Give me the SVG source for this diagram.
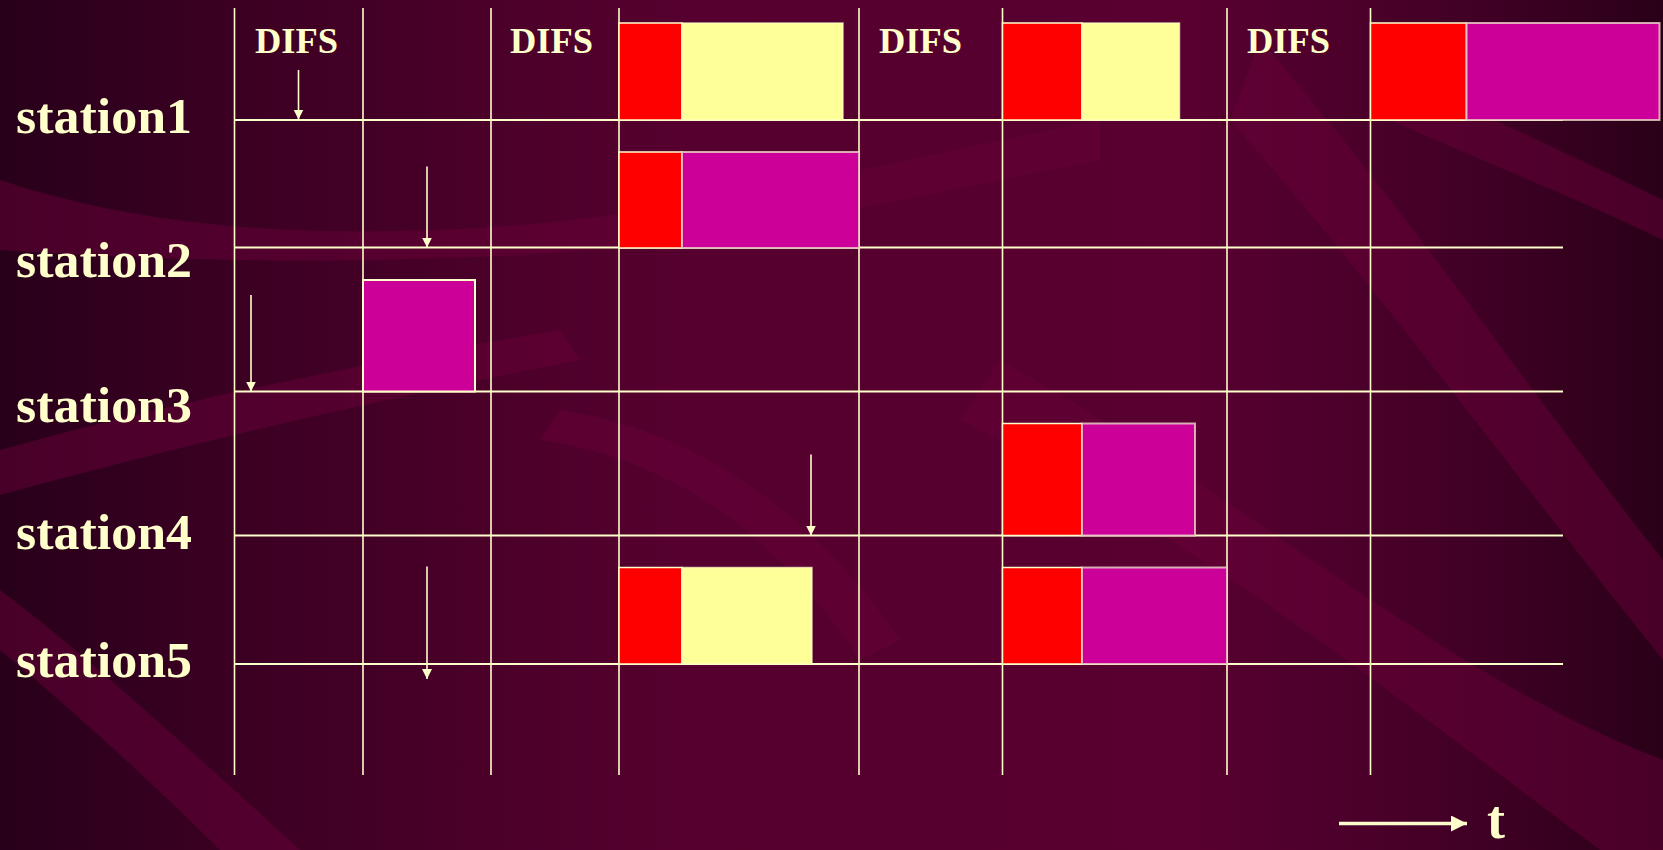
<svg xmlns="http://www.w3.org/2000/svg" width="1663" height="850" viewBox="0 0 1663 850">
  <defs>
    <linearGradient id="bg" x1="0" y1="0" x2="1" y2="0">
      <stop offset="0" stop-color="#28001a"/>
      <stop offset="0.13" stop-color="#3a0022"/>
      <stop offset="0.4" stop-color="#55002e"/>
      <stop offset="0.72" stop-color="#580030"/>
      <stop offset="0.88" stop-color="#420026"/>
      <stop offset="1" stop-color="#2a0018"/>
    </linearGradient>
    <marker id="ah" markerUnits="userSpaceOnUse" markerWidth="10" markerHeight="11" refX="10" refY="5" orient="auto">
      <path d="M0,0 L10,5 L0,10 Z" fill="#FFFFCC"/>
    </marker>
    <marker id="ahBig" markerUnits="userSpaceOnUse" markerWidth="16" markerHeight="17" refX="16" refY="8" orient="auto">
      <path d="M0,0 L16,8 L0,16 Z" fill="#FFFFCC"/>
    </marker>
    <style>
      .grid { stroke: #FFFFCC; stroke-width: 2; fill: none; }
      .vgrid { stroke: #FFFFCC; stroke-width: 1.6; fill: none; }
      .red { fill: #FF0000; stroke: #FFFFCC; stroke-width: 1.5; }
      .yel { fill: #FFFF99; stroke: #FFFFCC; stroke-width: 1.5; stroke-opacity: 0.7; }
      .mag { fill: #CC0099; stroke: #EED8C8; stroke-width: 2; stroke-opacity: 0.8; }
      .arr { stroke: #FFFFCC; stroke-width: 1.6; fill: none; marker-end: url(#ah); }
      .lbl { font-family: "Liberation Serif", "Times New Roman", serif; font-weight: bold; fill: #FFFFCC; }
      .st { font-size: 51px; }
      .difs { font-size: 36px; }
      .swoosh { fill: #680038; opacity: 0.5; }
    </style>
  </defs>

  <g id="background">
    <rect x="0" y="0" width="1663" height="850" fill="url(#bg)"/>
    <path class="swoosh" d="M0,180 C150,230 320,240 520,225 C700,210 900,160 1100,120 L1100,160 C900,200 700,245 520,255 C320,265 150,260 0,250 Z"/>
    <path class="swoosh" d="M0,450 C180,400 380,360 560,330 L580,360 C400,395 200,440 0,495 Z"/>
    <path class="swoosh" d="M0,590 C80,650 180,740 300,850 L220,850 C140,770 60,700 0,650 Z"/>
    <path class="swoosh" d="M560,410 C700,430 820,520 900,640 L860,660 C780,540 680,460 540,440 Z"/>
    <path class="swoosh" d="M1260,40 C1400,200 1520,380 1663,560 L1663,660 C1510,470 1380,290 1230,120 Z"/>
    <path class="swoosh" d="M1000,360 C1250,500 1450,680 1663,760 L1663,850 L1600,850 C1400,700 1200,540 960,420 Z"/>
    <path class="swoosh" d="M1400,80 C1500,120 1600,170 1663,200 L1663,240 C1580,200 1480,160 1390,120 Z"/>
  </g>

  <g id="grid">
    <line class="vgrid" x1="234.5" y1="8" x2="234.5" y2="775"/>
    <line class="vgrid" x1="363" y1="8" x2="363" y2="775"/>
    <line class="vgrid" x1="491" y1="8" x2="491" y2="775"/>
    <line class="vgrid" x1="619" y1="8" x2="619" y2="775"/>
    <line class="vgrid" x1="859" y1="8" x2="859" y2="775"/>
    <line class="vgrid" x1="1002.5" y1="8" x2="1002.5" y2="775"/>
    <line class="vgrid" x1="1227" y1="8" x2="1227" y2="775"/>
    <line class="vgrid" x1="1370.5" y1="8" x2="1370.5" y2="775"/>
    <line class="grid" x1="234.5" y1="120" x2="1563" y2="120"/>
    <line class="grid" x1="234.5" y1="247.5" x2="1563" y2="247.5"/>
    <line class="grid" x1="234.5" y1="391.5" x2="1563" y2="391.5"/>
    <line class="grid" x1="234.5" y1="535.5" x2="1563" y2="535.5"/>
    <line class="grid" x1="234.5" y1="664" x2="1563" y2="664"/>
  </g>

  <g id="station1">
    <text class="lbl st" x="16" y="133" textLength="176" lengthAdjust="spacingAndGlyphs">station1</text>
    <rect class="red" x="619" y="23" width="63" height="97"/>
    <rect class="yel" x="682" y="23" width="161" height="97"/>
    <rect class="red" x="1002.5" y="23" width="79.5" height="97"/>
    <rect class="yel" x="1082" y="23" width="97.5" height="97"/>
    <rect class="red" x="1370.5" y="23" width="96" height="97"/>
    <rect class="mag" x="1466.5" y="23" width="193" height="97"/>
  </g>

  <g id="station2">
    <text class="lbl st" x="16" y="276.5" textLength="176" lengthAdjust="spacingAndGlyphs">station2</text>
    <rect class="red" x="619" y="152" width="63" height="96"/>
    <rect class="mag" x="682" y="152" width="177" height="96"/>
  </g>

  <g id="station3">
    <text class="lbl st" x="16" y="421.5" textLength="176" lengthAdjust="spacingAndGlyphs">station3</text>
    <rect class="mag" x="363" y="280" width="112" height="111.5" style="stroke:#FFFFCC;stroke-opacity:1"/>
  </g>

  <g id="station4">
    <text class="lbl st" x="16" y="549" textLength="176" lengthAdjust="spacingAndGlyphs">station4</text>
    <rect class="red" x="1002.5" y="423.5" width="79.5" height="112"/>
    <rect class="mag" x="1082" y="423.5" width="113" height="112"/>
  </g>

  <g id="station5">
    <text class="lbl st" x="16" y="676.5" textLength="176" lengthAdjust="spacingAndGlyphs">station5</text>
    <rect class="red" x="619" y="567.5" width="63" height="96.5"/>
    <rect class="yel" x="682" y="567.5" width="130" height="96.5"/>
    <rect class="red" x="1002.5" y="567.5" width="79.5" height="96.5"/>
    <rect class="mag" x="1082" y="567.5" width="145" height="96.5"/>
  </g>

  <g id="difs-labels">
    <text class="lbl difs" x="255" y="53" textLength="83" lengthAdjust="spacingAndGlyphs">DIFS</text>
    <text class="lbl difs" x="510" y="53" textLength="83" lengthAdjust="spacingAndGlyphs">DIFS</text>
    <text class="lbl difs" x="879" y="53" textLength="83" lengthAdjust="spacingAndGlyphs">DIFS</text>
    <text class="lbl difs" x="1247" y="53" textLength="83" lengthAdjust="spacingAndGlyphs">DIFS</text>
  </g>

  <g id="connectors">
    <line class="arr" x1="298.5" y1="70" x2="298.5" y2="119.5"/>
    <line class="arr" x1="427" y1="166.5" x2="427" y2="247.5"/>
    <line class="arr" x1="251" y1="295" x2="251" y2="391.5"/>
    <line class="arr" x1="811" y1="454.5" x2="811" y2="535.5"/>
    <line class="arr" x1="427" y1="566.5" x2="427" y2="679"/>
    <line x1="1339" y1="823.5" x2="1467" y2="823.5" stroke="#FFFFCC" stroke-width="3.5" marker-end="url(#ahBig)"/>
  </g>

  <g id="time-label">
    <text class="lbl" x="1487" y="838" font-size="54">t</text>
  </g>
</svg>
